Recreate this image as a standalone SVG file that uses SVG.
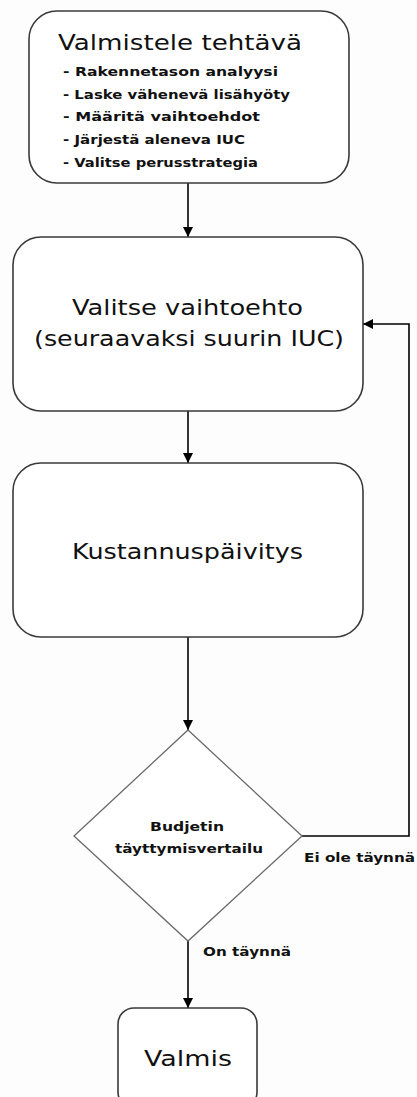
<svg xmlns="http://www.w3.org/2000/svg" width="417" height="1097" viewBox="0 0 417 1097">
  <defs>
    <marker id="arrow" viewBox="0 0 10 10" refX="10" refY="5" markerWidth="10" markerHeight="10" markerUnits="userSpaceOnUse" orient="auto">
      <path d="M0,0 L10,5 L0,10 Z" fill="#000"/>
    </marker>
  </defs>
  <style>
    .box { fill: #ffffff; stroke: #3a3a3a; stroke-width: 1.6; }
    .diamond { fill: #ffffff; stroke: #6a6a6a; stroke-width: 1.3; }
    .edge { fill: none; stroke: #000; stroke-width: 1.6; marker-end: url(#arrow); }
    .line { fill: none; stroke: #000; stroke-width: 1.6; }
    .title { font-family: "DejaVu Sans", "Liberation Sans", sans-serif; font-size: 21px; fill: #111; }
    .item { font-family: "DejaVu Sans", "Liberation Sans", sans-serif; font-size: 13px; font-weight: bold; fill: #111; }
    .label { font-family: "DejaVu Sans", "Liberation Sans", sans-serif; font-size: 13px; font-weight: bold; fill: #111; }
  </style>
  <rect width="417" height="1097" fill="#fdfdfd"/>

  <!-- connectors -->
  <g id="connectors">
    <line class="edge" x1="188" y1="183" x2="188" y2="237"/>
    <line class="edge" x1="188" y1="411" x2="188" y2="463"/>
    <line class="edge" x1="188" y1="637" x2="188" y2="730"/>
    <line class="edge" x1="188" y1="941" x2="188" y2="1008"/>
    <polyline class="edge" points="302,836 409,836 409,324 363,324"/>
    <text class="label" x="304" y="862" textLength="111" lengthAdjust="spacingAndGlyphs">Ei ole täynnä</text>
    <text class="label" x="203" y="956" textLength="88" lengthAdjust="spacingAndGlyphs">On täynnä</text>
  </g>

  <!-- preparation step -->
  <g id="prepare">
    <rect class="box" x="29" y="11" width="320" height="172" rx="28" ry="28"/>
    <text class="title" x="58" y="50" textLength="244" lengthAdjust="spacingAndGlyphs">Valmistele tehtävä</text>
    <text class="item" x="63" y="76" textLength="215" lengthAdjust="spacingAndGlyphs">- Rakennetason analyysi</text>
    <text class="item" x="63" y="99" textLength="227" lengthAdjust="spacingAndGlyphs">- Laske vähenevä lisähyöty</text>
    <text class="item" x="63" y="121" textLength="197" lengthAdjust="spacingAndGlyphs">- Määritä vaihtoehdot</text>
    <text class="item" x="63" y="144" textLength="182" lengthAdjust="spacingAndGlyphs">- Järjestä aleneva IUC</text>
    <text class="item" x="63" y="167" textLength="195" lengthAdjust="spacingAndGlyphs">- Valitse perusstrategia</text>
  </g>

  <!-- choose option -->
  <g id="choose">
    <rect class="box" x="13" y="237" width="350" height="174" rx="28" ry="28"/>
    <text class="title" x="72" y="315" textLength="231" lengthAdjust="spacingAndGlyphs">Valitse vaihtoehto</text>
    <text class="title" x="34" y="346" textLength="310" lengthAdjust="spacingAndGlyphs">(seuraavaksi suurin IUC)</text>
  </g>

  <!-- cost update -->
  <g id="update">
    <rect class="box" x="13" y="463" width="350" height="174" rx="28" ry="28"/>
    <text class="title" x="72" y="559" textLength="231" lengthAdjust="spacingAndGlyphs">Kustannuspäivitys</text>
  </g>

  <!-- budget check -->
  <g id="check">
    <polygon class="diamond" points="188,730 302,836 188,941 74,836"/>
    <text class="label" x="150" y="831" textLength="74" lengthAdjust="spacingAndGlyphs">Budjetin</text>
    <text class="label" x="115" y="853" textLength="148" lengthAdjust="spacingAndGlyphs">täyttymisvertailu</text>
  </g>

  <!-- done -->
  <g id="done">
    <rect class="box" x="118" y="1008" width="139" height="100" rx="16" ry="16"/>
    <text class="title" x="144" y="1066" textLength="88" lengthAdjust="spacingAndGlyphs">Valmis</text>
  </g>
</svg>
